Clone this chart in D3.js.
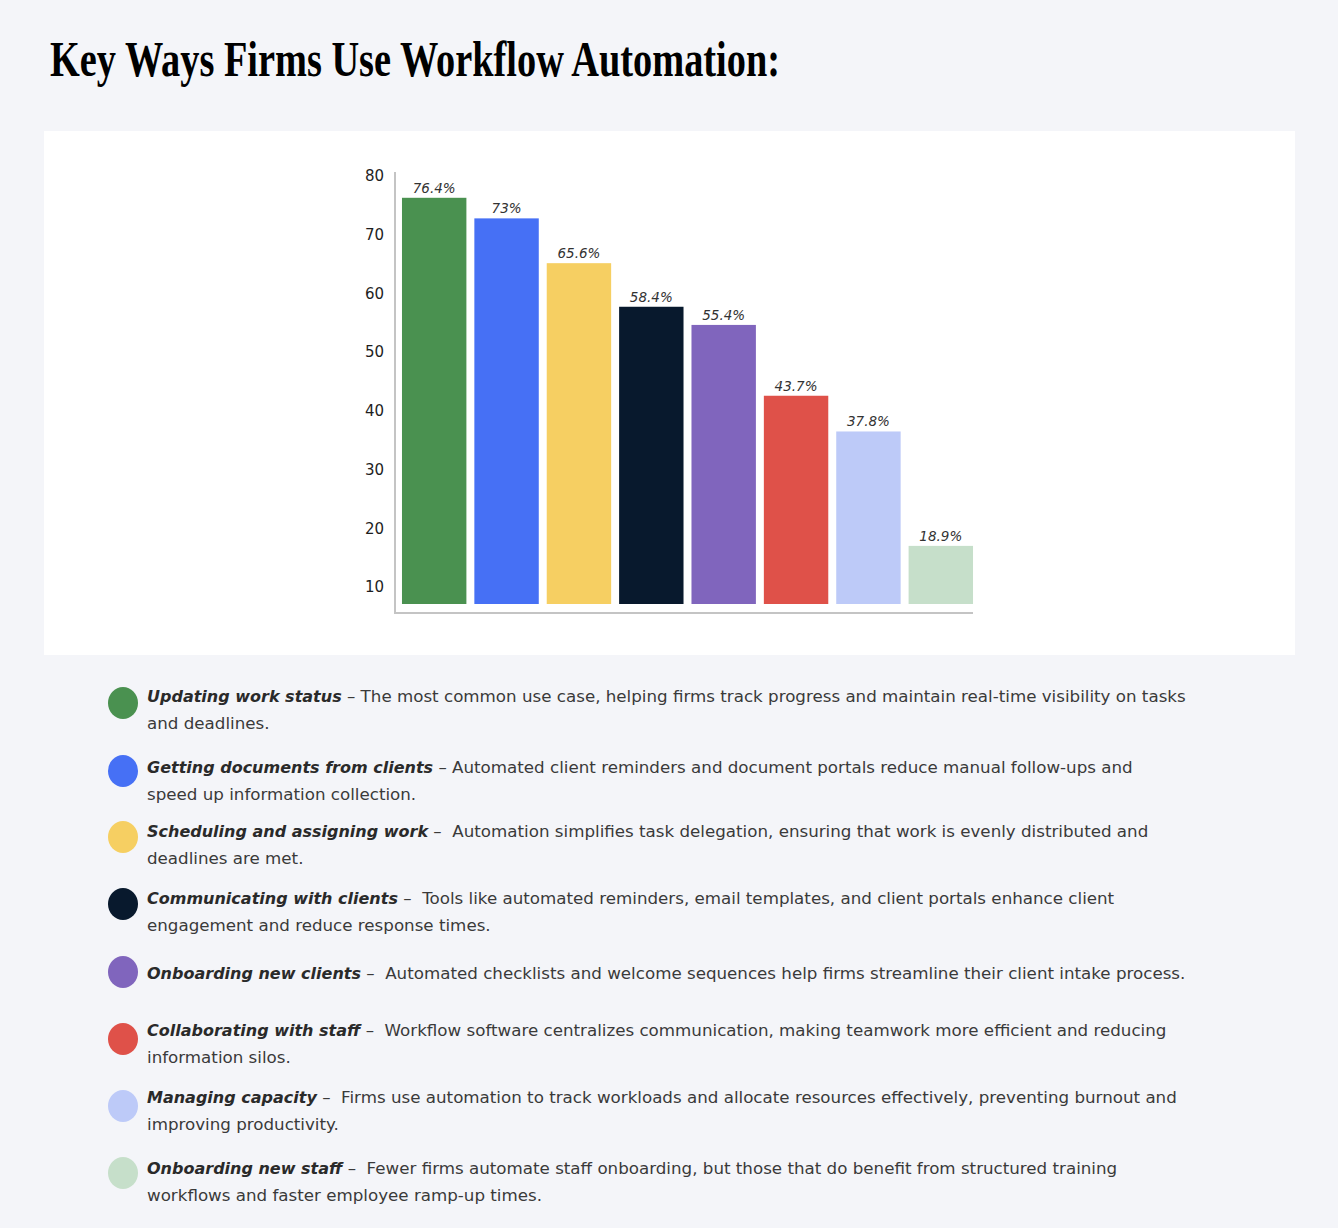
<!DOCTYPE html>
<html>
<head>
<meta charset="utf-8">
<script src="https://cdn.jsdelivr.net/npm/d3@7"></script>
<style>
  body { margin: 0; background: #f4f5f9; }
  svg { display: block; }
</style>
</head>
<body>
<div id="chart"></div>
<script>
'use strict';

var categories = [
    'Updating work status',
    'Getting documents from clients',
    'Scheduling and assigning work',
    'Communicating with clients',
    'Onboarding new clients',
    'Collaborating with staff',
    'Managing capacity',
    'Onboarding new staff'
];

var values = [76.4, 73, 65.6, 58.4, 55.4, 43.7, 37.8, 18.9];

var colors = ['#4a9150', '#4670f5', '#f6cf62', '#08192d', '#8065bd', '#df5149', '#bdcaf8', '#c6dfca'];

var yTicks = [10, 20, 30, 40, 50, 60, 70, 80];

// legend text, already broken into the lines seen in the picture
var descriptions = [
    [' \u2013 The most common use case, helping firms track progress and maintain real-time visibility on tasks', 'and deadlines.'],
    [' \u2013 Automated client reminders and document portals reduce manual follow-ups and', 'speed up information collection.'],
    [' \u2013  Automation simplifies task delegation, ensuring that work is evenly distributed and', 'deadlines are met.'],
    [' \u2013  Tools like automated reminders, email templates, and client portals enhance client', 'engagement and reduce response times.'],
    [' \u2013  Automated checklists and welcome sequences help firms streamline their client intake process.'],
    [' \u2013  Workflow software centralizes communication, making teamwork more efficient and reducing', 'information silos.'],
    [' \u2013  Firms use automation to track workloads and allocate resources effectively, preventing burnout and', 'improving productivity.'],
    [' \u2013  Fewer firms automate staff onboarding, but those that do benefit from structured training', 'workflows and faster employee ramp-up times.']
];

var legendDotY = [703, 771, 837, 904, 972, 1039, 1106, 1173];
var legendTextY = [702, 773, 837, 904, 979, 1036, 1103, 1174];

var width = 1338,
    height = 1228,
    font = '"DejaVu Sans", "Noto Sans", sans-serif';

var svg = d3.select('#chart').append('svg')
    .attr('width', width)
    .attr('height', height);

svg.append('rect')
    .attr('width', width)
    .attr('height', height)
    .attr('fill', '#f4f5f9');

// title
svg.append('text')
    .attr('x', 50)
    .attr('y', 76)
    .attr('font-family', '"Liberation Serif", "DejaVu Serif", serif')
    .attr('font-weight', 'bold')
    .attr('font-size', 50)
    .attr('textLength', 730)
    .attr('lengthAdjust', 'spacingAndGlyphs')
    .attr('fill', '#000')
    .text('Key Ways Firms Use Workflow Automation:');

// white card
svg.append('rect')
    .attr('x', 44)
    .attr('y', 131)
    .attr('width', 1251)
    .attr('height', 524)
    .attr('fill', '#ffffff');

// scales: the bars and the tick labels are not quite in register in the
// original graphic, so each gets its own linear scale
var x = d3.scaleBand()
    .domain(categories)
    .range([398, 977])
    .paddingInner(0.11)
    .paddingOuter(0.055);

var y = d3.scaleLinear()
    .domain([9.3, 80])
    .range([604, 176]);

var yTickScale = d3.scaleLinear()
    .domain([10, 80])
    .range([587, 176]);

var baseY = 613;

// axis lines
svg.append('line')
    .attr('x1', 395).attr('x2', 395)
    .attr('y1', 172).attr('y2', baseY)
    .attr('stroke', '#c4c4c4')
    .attr('stroke-width', 2);

svg.append('line')
    .attr('x1', 394).attr('x2', 973)
    .attr('y1', baseY).attr('y2', baseY)
    .attr('stroke', '#c4c4c4')
    .attr('stroke-width', 2);

var yAxis = svg.append('g')
    .attr('transform', 'translate(384,0)')
    .call(d3.axisLeft(yTickScale).tickValues(yTicks).tickSize(0).tickPadding(0));

yAxis.select('.domain').remove();
yAxis.selectAll('text')
    .attr('font-family', font)
    .attr('font-size', 15)
    .attr('fill', '#1e1e1e');

// bars
svg.selectAll('.bar')
    .data(values)
    .enter()
    .append('rect')
    .attr('class', 'bar')
    .attr('x', function(d, i){ return x(categories[i]); })
    .attr('y', function(d){ return y(d); })
    .attr('width', x.bandwidth())
    .attr('height', function(d){ return y.range()[0] - y(d); })
    .attr('fill', function(d, i){ return colors[i]; });

// value labels
svg.selectAll('.value-label')
    .data(values)
    .enter()
    .append('text')
    .attr('class', 'value-label')
    .attr('x', function(d, i){ return x(categories[i]) + x.bandwidth() / 2; })
    .attr('y', function(d){ return y(d) - 5; })
    .attr('text-anchor', 'middle')
    .attr('font-family', font)
    .attr('font-style', 'italic')
    .attr('font-size', 13.5)
    .attr('fill', '#333')
    .text(function(d){ return d + '%'; });

// legend
var legend = svg.selectAll('.legend-row')
    .data(categories)
    .enter()
    .append('g')
    .attr('class', 'legend-row');

legend.append('ellipse')
    .attr('cx', 123)
    .attr('cy', function(d, i){ return legendDotY[i]; })
    .attr('rx', 15)
    .attr('ry', 16)
    .attr('fill', function(d, i){ return colors[i]; });

legend.each(function(d, i){
    var g = d3.select(this);
    var lines = descriptions[i];
    var first = g.append('text')
        .attr('x', 147)
        .attr('y', legendTextY[i])
        .attr('font-family', font)
        .attr('font-size', 16.7)
        .attr('fill', '#3a3a3a');
    first.append('tspan')
        .attr('font-weight', 'bold')
        .attr('font-style', 'italic')
        .attr('font-size', 16)
        .attr('fill', '#2a2a2a')
        .text(d);
    first.append('tspan')
        .style('white-space', 'pre')
        .text(lines[0]);
    if (lines[1]) {
        g.append('text')
            .attr('x', 147)
            .attr('y', legendTextY[i] + 27)
            .attr('font-family', font)
            .attr('font-size', 16.7)
            .attr('fill', '#3a3a3a')
            .text(lines[1]);
    }
});
</script>
</body>
</html>
